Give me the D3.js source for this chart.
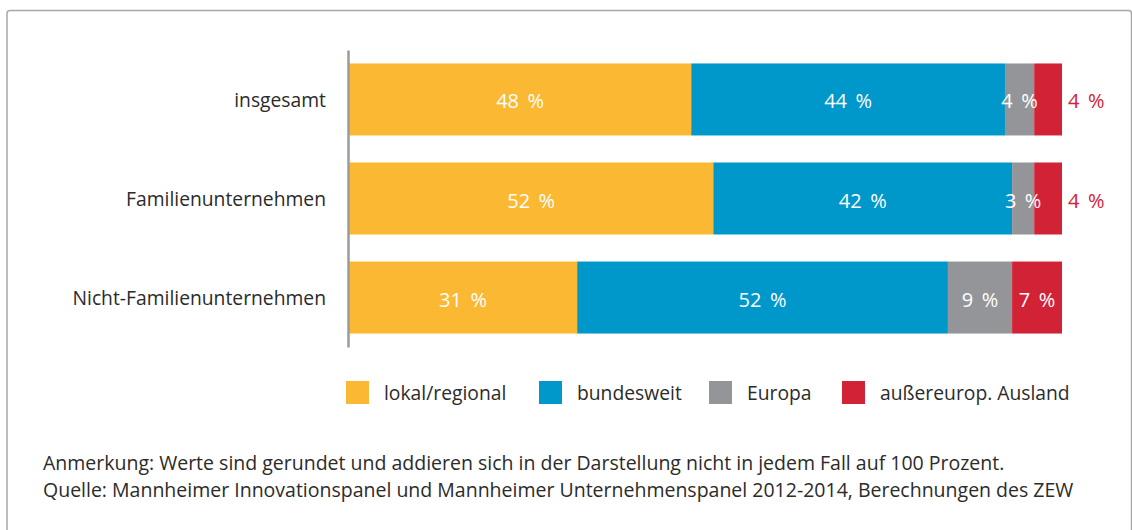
<!DOCTYPE html>
<html>
<head>
    <meta charset="utf-8">
    <title>Absatzmärkte</title>
    <style type="text/css">
        body { margin: 0; background: #fff; }
        svg text { font-family: "Open Sans", "Noto Sans", sans-serif; }
        .axis path { stroke: #9b9b9b; stroke-width: 2.5; fill: none; }
        .axis text { font-size: 19.3px; fill: #2b2b2b; }
        .seg-label { font-size: 20px; }
        .legend text { font-size: 19.3px; fill: #2b2b2b; }
        .note { font-size: 19.5px; fill: #2b2b2b; }
    </style>
</head>
<body>
<script src="https://cdn.jsdelivr.net/npm/d3@7"></script>
<script>
    /*========= DATA =========*/
    var categories = ['insgesamt', 'Familienunternehmen', 'Nicht-Familienunternehmen'];
    var seriesNames = ['lokal/regional', 'bundesweit', 'Europa', 'außereurop. Ausland'];
    // Anteile je Zeile (aus den Balkenlängen geschätzt)
    var lokal = [48, 51.1, 32];
    var bundesweit = [44, 41.9, 52];
    var europa = [4.1, 3.1, 9];
    var ausland = [3.9, 3.9, 7];
    // beschriftete (gerundete) Werte
    var lokalLabels = [48, 52, 31];
    var bundesweitLabels = [44, 42, 52];
    var europaLabels = [4, 3, 9];
    var auslandLabels = [4, 4, 7];
    var notes = [
        'Anmerkung: Werte sind gerundet und addieren sich in der Darstellung nicht in jedem Fall auf 100 Prozent.',
        'Quelle: Mannheimer Innovationspanel und Mannheimer Unternehmenspanel 2012-2014, Berechnungen des ZEW'
    ];

    /*========= COLOR =========*/
    var colors = ['#fbb832', '#0097cb', '#939598', '#d22336'];

    /*========= SIZE =========*/
    var svgWidth = 1132, svgHeight = 530;
    var margin = { top: 50, left: 349, right: 70 };
    var plotRight = 1062, plotBottom = 347;

    var valueCols = [lokal, bundesweit, europa, ausland];
    var labelCols = [lokalLabels, bundesweitLabels, europaLabels, auslandLabels];
    var rows = categories.map(function (c, i) {
        var r = { cat: c };
        seriesNames.forEach(function (s, k) { r[s] = valueCols[k][i]; });
        return r;
    });
    var stacked = d3.stack().keys(seriesNames)(rows);

    var x = d3.scaleLinear().domain([0, 100]).range([margin.left, plotRight]);
    var y = d3.scaleBand().domain(categories).range([margin.top, plotBottom])
        .paddingInner(0.273).paddingOuter(0.136);

    var svg = d3.select('body').append('svg')
        .attr('width', svgWidth).attr('height', svgHeight);

    // Rahmen
    svg.append('rect')
        .attr('x', 7).attr('y', 10.5)
        .attr('width', 1124.5).attr('height', 560)
        .attr('rx', 3)
        .attr('fill', 'none').attr('stroke', '#a8a8a8').attr('stroke-width', 1.5);

    // Balken
    var layers = svg.append('g').attr('class', 'bars')
        .selectAll('g').data(stacked).enter().append('g')
        .attr('fill', function (d, k) { return colors[k]; });

    layers.selectAll('rect')
        .data(function (d) { return d; })
        .enter().append('rect')
        .attr('x', function (d) { return x(d[0]); })
        .attr('y', function (d) { return y(d.data.cat); })
        .attr('width', function (d) { return x(d[1]) - x(d[0]); })
        .attr('height', y.bandwidth());

    // Beschriftung
    var lastKey = seriesNames.length - 1;
    stacked.forEach(function (layer, k) {
        svg.append('g').selectAll('text')
            .data(layer)
            .enter().append('text')
            .attr('class', 'seg-label')
            .each(function (d, i) {
                var outside = k === lastKey && labelCols[k][i] < 5;
                d3.select(this)
                    .attr('x', outside ? x(d[1]) + 6 : (x(d[0]) + x(d[1])) / 2)
                    .attr('text-anchor', outside ? 'start' : 'middle')
                    .attr('fill', outside ? colors[k] : '#fff');
            })
            .attr('y', function (d) { return y(d.data.cat) + y.bandwidth() / 2 + 2; })
            .attr('dy', '0.35em')
            .text(function (d, i) { return labelCols[k][i] + '\u2009 %'; });
    });

    // Achse
    svg.append('g').attr('class', 'axis')
        .attr('transform', 'translate(' + (margin.left - 1) + ',0)')
        .call(d3.axisLeft(y).tickSize(0).tickSizeOuter(0).tickPadding(22))
        .selectAll('text').attr('dy', '0.4em');

    // Legende
    var legendX = [346, 539, 709, 842];
    var legend = svg.append('g').attr('class', 'legend')
        .selectAll('g').data(seriesNames).enter().append('g')
        .attr('transform', function (d, k) { return 'translate(' + legendX[k] + ',381)'; });
    legend.append('rect')
        .attr('width', 23).attr('height', 23)
        .attr('fill', function (d, k) { return colors[k]; });
    legend.append('text')
        .attr('x', 38).attr('y', 12).attr('dy', '0.35em')
        .text(function (d) { return d; });

    // Anmerkung
    svg.append('g').selectAll('text')
        .data(notes).enter().append('text')
        .attr('class', 'note')
        .attr('x', 43)
        .attr('y', function (d, i) { return 470 + i * 27; })
        .text(function (d) { return d; });
</script>
</body>
</html>
